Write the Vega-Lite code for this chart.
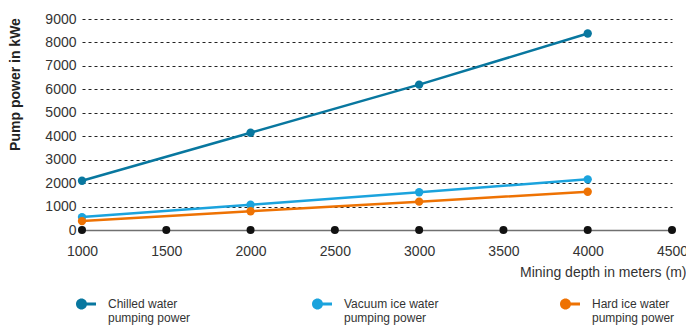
{
  "$schema": "https://vega.github.io/schema/vega-lite/v6.json",
  "width": 590,
  "height": 211,
  "autosize": {"type": "none"},
  "padding": {"left": 82, "top": 19, "right": 14, "bottom": 95},
  "background": "white",
  "config": {"font": "Liberation Sans", "view": {"stroke": null}},
  "datasets": {
    "series": [
      {"depth": 1000, "power": 2100, "series": "Chilled water|pumping power"},
      {"depth": 2000, "power": 4150, "series": "Chilled water|pumping power"},
      {"depth": 3000, "power": 6200, "series": "Chilled water|pumping power"},
      {"depth": 4000, "power": 8380, "series": "Chilled water|pumping power"},
      {"depth": 1000, "power": 550, "series": "Vacuum ice water|pumping power"},
      {"depth": 2000, "power": 1080, "series": "Vacuum ice water|pumping power"},
      {"depth": 3000, "power": 1610, "series": "Vacuum ice water|pumping power"},
      {"depth": 4000, "power": 2160, "series": "Vacuum ice water|pumping power"},
      {"depth": 1000, "power": 380, "series": "Hard ice water|pumping power"},
      {"depth": 2000, "power": 800, "series": "Hard ice water|pumping power"},
      {"depth": 3000, "power": 1210, "series": "Hard ice water|pumping power"},
      {"depth": 4000, "power": 1630, "series": "Hard ice water|pumping power"}
    ],
    "ticks": [
      {"depth": 1000, "power": 0}, {"depth": 1500, "power": 0}, {"depth": 2000, "power": 0}, {"depth": 2500, "power": 0},
      {"depth": 3000, "power": 0}, {"depth": 3500, "power": 0}, {"depth": 4000, "power": 0}, {"depth": 4500, "power": 0}
    ]
  },
  "encoding": {
    "x": {
      "field": "depth",
      "type": "quantitative",
      "scale": {"domain": [1000, 4500], "nice": false, "zero": false},
      "axis": {
        "values": [1000, 1500, 2000, 2500, 3000, 3500, 4000, 4500],
        "format": "d",
        "title": "Mining depth in meters (m)",
        "titleFont": "Liberation Sans",
        "titleFontSize": 14,
        "titleFontWeight": "normal",
        "titleColor": "#333333",
        "titleAnchor": null,
        "titleAlign": "right",
        "titleBaseline": "middle",
        "titleX": 604,
        "titleY": 42,
        "labelFontSize": 14,
        "labelColor": "#333333",
        "labelPadding": 14,
        "labelFlush": false,
        "labelOverlap": false,
        "ticks": false,
        "grid": false,
        "domainColor": "#707070",
        "domainWidth": 1.6
      }
    },
    "y": {
      "field": "power",
      "type": "quantitative",
      "scale": {"domain": [0, 9000], "nice": false},
      "axis": {
        "values": [0, 1000, 2000, 3000, 4000, 5000, 6000, 7000, 8000, 9000],
        "format": "d",
        "title": "Pump power in kWe",
        "titleFontSize": 14,
        "titleFontWeight": "bold",
        "titleColor": "#222222",
        "titleAngle": -90,
        "titleAnchor": null,
        "titleAlign": "center",
        "titleBaseline": "middle",
        "titleX": -67,
        "titleY": 65,
        "labelFontSize": 14,
        "labelColor": "#333333",
        "labelPadding": 6,
        "ticks": false,
        "domain": false,
        "grid": true,
        "gridColor": "#222222",
        "gridDash": [3, 3],
        "gridWidth": 1,
        "gridOpacity": {"condition": {"test": "datum.value === 0", "value": 0}, "value": 1}
      }
    }
  },
  "layer": [
    {
      "data": {"name": "series"},
      "mark": {"type": "line", "strokeWidth": 2.5},
      "encoding": {
        "color": {"field": "series", "type": "nominal",
          "scale": {"domain": ["Chilled water|pumping power", "Vacuum ice water|pumping power", "Hard ice water|pumping power"],
                    "range": ["#08779f", "#1ba3dd", "#ee7203"]}}
      }
    },
    {
      "data": {"name": "ticks"},
      "mark": {"type": "point", "filled": true, "size": 64, "color": "#111111", "opacity": 1}
    },
    {
      "data": {"name": "series"},
      "mark": {"type": "point", "filled": true, "size": 70, "opacity": 1},
      "encoding": {
        "color": {"field": "series", "type": "nominal",
          "scale": {"domain": ["Chilled water|pumping power", "Vacuum ice water|pumping power", "Hard ice water|pumping power"],
                    "range": ["#08779f", "#1ba3dd", "#ee7203"]},
          "legend": {
            "title": null,
            "orient": "none",
            "direction": "horizontal",
            "columns": 3,
            "legendX": -6,
            "legendY": 275,
            "padding": 0,
            "columnPadding": 121,
            "symbolType": "M-1,0 A0.55,0.55 0 1,1 0.1,0 A0.55,0.55 0 1,1 -1,0 Z M0,-0.14 L1,-0.14 L1,0.14 L0,0.14 Z",
            "symbolSize": 400,
            "symbolStrokeWidth": 0,
            "symbolOpacity": 1,
            "labelExpr": "split(datum.label, '|')",
            "labelFontSize": 12,
            "labelColor": "#333333",
            "labelLineHeight": 16,
            "labelOffset": 12,
            "labelBaseline": "middle",
            "labelLimit": 300
          }
        }
      }
    }
  ]
}
